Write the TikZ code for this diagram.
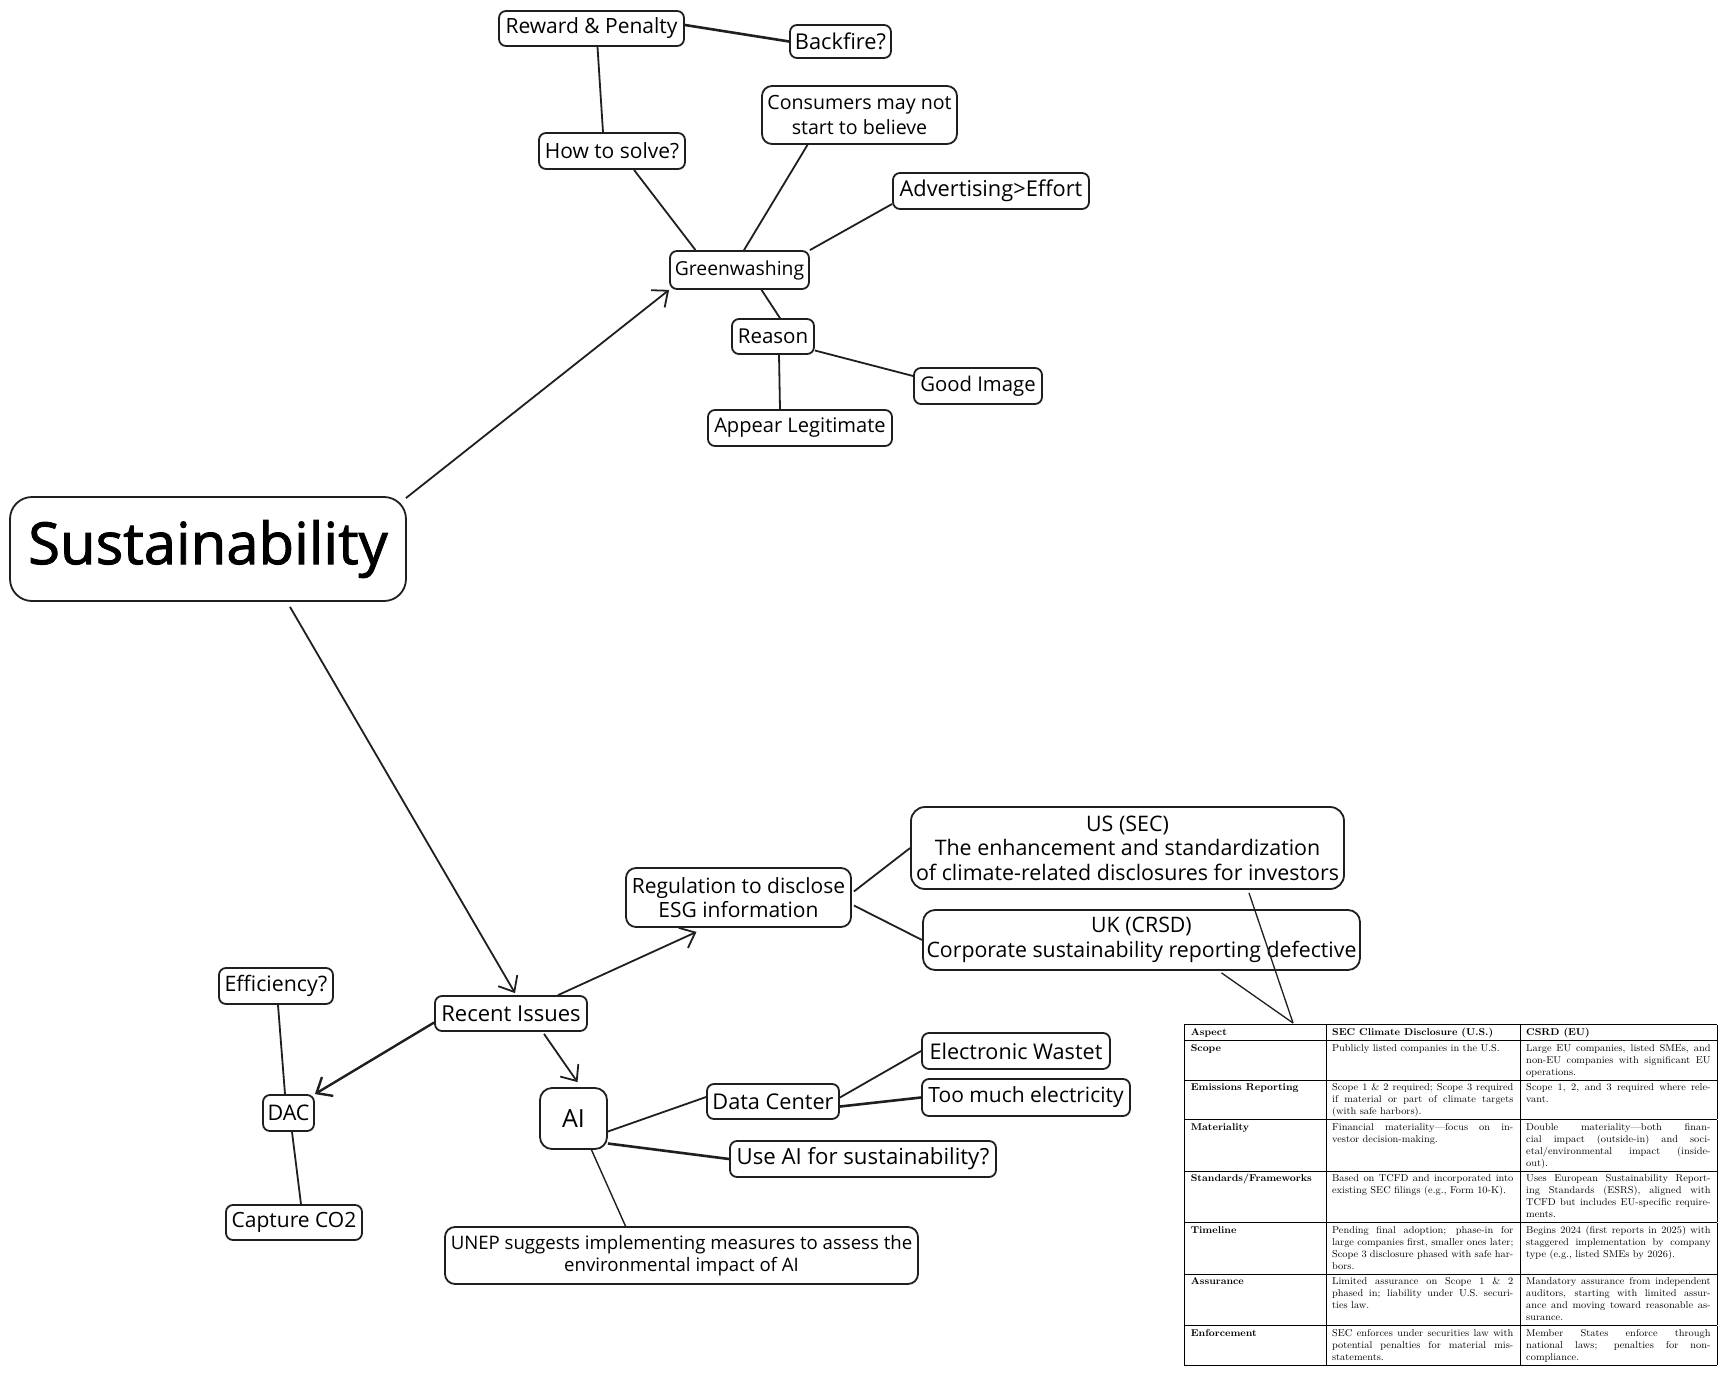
\documentclass[tikz,border=0pt]{standalone}
\usepackage{fontspec}
\usepackage{array}
\usepackage{graphicx}
\newfontfamily\hand{Open Sans}
\newfontfamily\handB[FakeBold=1.6]{Open Sans}
\usetikzlibrary{arrows.meta,calc}
\begin{document}
\begin{tikzpicture}[x=1pt,y=-1pt,
  bx/.style={draw=black!88, line width=1.8pt, rounded corners=7pt, inner sep=0pt, align=center,
             font=\hand\fontsize{21}{24.5}\selectfont},
  fs/.style={font=\hand\fontsize{#1}{24.5}\selectfont},
  con/.style={draw=black!88, line width=1.8pt},
  thk/.style={con, line width=2.6pt},
  arr/.style={con, -{Straight Barb[length=13pt,width=22pt]}},
  thn/.style={draw=black!88, line width=1.3pt}]
\fill[white] (0,0) rectangle (1729,1375);
\useasboundingbox (0,0) rectangle (1729,1375);

% nodes
\node[bx, fs=21, minimum width=185pt, minimum height=35pt] (rp) at (591.5,28.5) {Reward \& Penalty};
\node[bx, fs=21.8, minimum width=101pt, minimum height=33pt] (bf) at (840.5,41.5) {Backfire?};
\node[bx, fs=21, minimum width=146pt, minimum height=36pt] (hs) at (612,151) {How to solve?};
\node[bx, fs=19.6, minimum width=195pt, minimum height=58pt, rounded corners=10pt] (co) at (859.5,115) {Consumers may not\\start to believe};
\node[bx, fs=21.8, minimum width=196pt, minimum height=36pt] (ad) at (991,191) {Advertising>Effort};
\node[bx, fs=19.3, minimum width=139pt, minimum height=38pt] (gw) at (739.5,270) {Greenwashing};
\node[bx, fs=20.5, minimum width=82pt, minimum height=35pt] (re) at (773,336.5) {Reason};
\node[bx, fs=20.3, minimum width=128pt, minimum height=36pt] (gi) at (978,386) {Good Image};
\node[bx, fs=20.1, minimum width=184pt, minimum height=36pt] (al) at (800,428) {Appear Legitimate};
\node[bx, minimum width=396pt, minimum height=104pt, rounded corners=22pt,
      font=\handB\fontsize{58}{60}\selectfont] (su) at (208,549) {Sustainability};
\node[bx, fs=22, minimum width=152pt, minimum height=35pt] (ri) at (511,1013.5) {Recent Issues};
\node[bx, fs=21, minimum width=225pt, minimum height=59pt, rounded corners=10pt] (rg) at (738.5,897.5) {Regulation to disclose\\ESG information};
\node[bx, fs=21.4, minimum width=433pt, minimum height=82pt, rounded corners=14pt] (us) at (1127.5,848) {US (SEC)\\The enhancement and standardization\\of climate-related disclosures for investors};
\node[bx, fs=21.3, minimum width=437pt, minimum height=60pt, rounded corners=12pt] (uk) at (1141.5,940) {UK (CRSD)\\Corporate sustainability reporting defective};
\node[bx, fs=21.3, minimum width=114pt, minimum height=36pt] (ef) at (276,986) {Efficiency?};
\node[bx, fs=21.5, minimum width=51pt, minimum height=36pt] (dac) at (288.5,1113) {DAC};
\node[bx, fs=21, minimum width=136pt, minimum height=35pt] (cc) at (294,1222.5) {Capture CO2};
\node[bx, fs=25, minimum width=67pt, minimum height=61pt, rounded corners=12pt] (ai) at (573.5,1118.5) {AI};
\node[bx, fs=21.7, minimum width=132pt, minimum height=35pt] (dc) at (773,1101.5) {Data Center};
\node[bx, fs=21.6, minimum width=188pt, minimum height=36pt] (ew) at (1016,1051) {Electronic Wastet};
\node[bx, fs=21, minimum width=208pt, minimum height=37pt] (tm) at (1026,1097.5) {Too much electricity};
\node[bx, fs=22.2, minimum width=266pt, minimum height=36pt] (ua) at (863,1159) {Use AI for sustainability?};
\node[bx, minimum width=473pt, minimum height=57pt, rounded corners=10pt,
      font=\hand\fontsize{18.6}{21.5}\selectfont] (un) at (681.5,1255.5) {UNEP suggests implementing measures to assess the\\environmental impact of AI};

% table
\node[inner sep=0pt, anchor=north west] (tab) at (1184,1024) {\resizebox*{533pt}{341pt}{%
\fontsize{10}{12}\selectfont\renewcommand{\arraystretch}{1.3}%
\begin{tabular}{|p{124pt}|p{175pt}|p{178pt}|}
\hline
\textbf{Aspect} & \textbf{SEC Climate Disclosure (U.S.)} & \textbf{CSRD (EU)} \\ \hline
\textbf{Scope} & Publicly listed companies in the U.S. & Large EU companies, listed SMEs, and\linebreak non-EU companies with significant EU\linebreak operations. \\ \hline
\textbf{Emissions Reporting} & Scope 1 \& 2 required; Scope 3 required\linebreak if material or part of climate targets\linebreak (with safe harbors). & Scope 1, 2, and 3 required where rele-\linebreak vant. \\ \hline
\textbf{Materiality} & Financial materiality---focus on in-\linebreak vestor decision-making. & Double materiality---both finan-\linebreak cial impact (outside-in) and soci-\linebreak etal/environmental impact (inside-\linebreak out). \\ \hline
\textbf{Standards/Frameworks} & Based on TCFD and incorporated into\linebreak existing SEC filings (e.g., Form 10-K). & Uses European Sustainability Report-\linebreak ing Standards (ESRS), aligned with\linebreak TCFD but includes EU-specific require-\linebreak ments. \\ \hline
\textbf{Timeline} & Pending final adoption; phase-in for\linebreak large companies first, smaller ones later;\linebreak Scope 3 disclosure phased with safe har-\linebreak bors. & Begins 2024 (first reports in 2025) with\linebreak staggered implementation by company\linebreak type (e.g., listed SMEs by 2026). \\ \hline
\textbf{Assurance} & Limited assurance on Scope 1 \& 2\linebreak phased in; liability under U.S. securi-\linebreak ties law. & Mandatory assurance from independent\linebreak auditors, starting with limited assur-\linebreak ance and moving toward reasonable as-\linebreak surance. \\ \hline
\textbf{Enforcement} & SEC enforces under securities law with\linebreak potential penalties for material mis-\linebreak statements. & Member States enforce through\linebreak national laws; penalties for non-\linebreak compliance. \\ \hline
\end{tabular}}};
\coordinate (tp) at ($(tab.north west)+(109,-1)$);

% connectors
\draw[arr] ($(su.north east)+(-1,2)$) -- (gw.south west);
\draw[arr] ($(su.south)+(82,5)$) -- ($(ri.north)+(4,-2)$);
\draw[arr] ($(ri.north)+(47,0)$) -- ($(rg.south)+(-42,4)$);
\draw[arr, line width=2.4pt] ($(ri.west)+(0,9)$) -- (dac.north east);
\draw[arr] ($(ri.south)+(33,2)$) -- ($(ai.north)+(4,-5)$);
\draw[con] ($(rg.east)+(2,-6)$) -- (us.west);
\draw[con] ($(rg.east)+(2,8)$) -- (uk.west);
\draw[thn] ($(us.south)+(121.5,3)$) -- (tp);
\draw[thn] ($(uk.south)+(80,2)$) -- (tp);
\draw[con] ($(gw.north)+(-44,0)$) -- ($(hs.south)+(22,0)$);
\draw[con] ($(hs.north)+(-9,0)$) -- ($(rp.south)+(6,0)$);
\draw[thk] ($(rp.east)+(0,-3.5)$) -- (bf.west);
\draw[con] ($(gw.north)+(4.5,0)$) -- ($(co.south)+(-52,0)$);
\draw[con] (gw.north east) -- ($(ad.west)+(0,13)$);
\draw[con] ($(gw.south)+(22,0)$) -- ($(re.north)+(7,0)$);
\draw[con] ($(re.east)+(0,14)$) -- ($(gi.west)+(0,-10)$);
\draw[con] ($(re.south)+(6,0)$) -- ($(al.north)+(-20,0)$);
\draw[con] ($(dac.north)+(-3.5,0)$) -- ($(ef.south)+(2,0)$);
\draw[con] ($(dac.south)+(3.5,0)$) -- ($(cc.north)+(7,0)$);
\draw[con] ($(ai.east)+(0,13)$) -- ($(dc.west)+(0,-4.5)$);
\draw[thk] ($(ai.east)+(0,25)$) -- (ua.west);
\draw[con, line width=1.4pt] ($(ai.south)+(18,0)$) -- ($(un.north)+(-56,0)$);
\draw[con] ($(dc.east)+(0,-4)$) -- (ew.west);
\draw[thk] ($(dc.east)+(0,5)$) -- (tm.west);
\end{tikzpicture}
\end{document}
